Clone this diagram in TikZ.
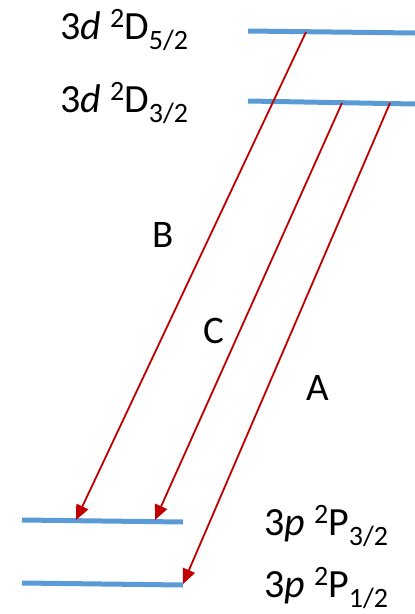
\documentclass[tikz,border=0pt]{standalone}
\usepackage{fontspec}
\setmainfont{Carlito}
\usetikzlibrary{arrows.meta}
\definecolor{levelblue}{RGB}{91,155,213}
\definecolor{linered}{RGB}{192,0,0}
\newcommand{\smallfs}{\fontsize{28}{32}\selectfont}
\newcommand{\termsym}[3]{3\textit{#1} \raisebox{0.28em}{\smallfs 2}#2\raisebox{-0.25em}{\smallfs #3}}

\begin{document}
\begin{tikzpicture}[x=1pt,y=-1pt,
    level/.style={levelblue,line width=5pt},
    trans/.style={linered,line width=1.8pt,-{Triangle[length=15pt,width=13pt]}},
    termlabel/.style={anchor=base west,inner sep=0pt,font=\fontsize{40}{46}\selectfont},
    tag/.style={anchor=base,inner sep=0pt,font=\fontsize{39}{45}\selectfont}]
    \useasboundingbox (0,0) rectangle (415,614);
    % energy levels
    \coordinate (D52l) at (248,31);  \coordinate (D52r) at (415,33);
    \coordinate (D32l) at (248,101); \coordinate (D32r) at (415,104);
    \coordinate (P32l) at (22,520);  \coordinate (P32r) at (183,522);
    \coordinate (P12l) at (22,583);  \coordinate (P12r) at (183,585);
    \draw[level] (D52l) -- (D52r);
    \draw[level] (D32l) -- (D32r);
    \draw[level] (P32l) -- (P32r);
    \draw[level] (P12l) -- (P12r);
    % term symbols
    \node[termlabel] (tD52) at (60,39)  {\termsym{d}{D}{5/2}};
    \node[termlabel] (tD32) at (60,112) {\termsym{d}{D}{3/2}};
    \node[termlabel] (tP32) at (264,535) {\termsym{p}{P}{3/2}};
    \node[termlabel] (tP12) at (264,597) {\termsym{p}{P}{1/2}};
    % transitions
    \coordinate (Btop) at (306,32);  \coordinate (Bbot) at (76,520);
    \coordinate (Ctop) at (342,103); \coordinate (Cbot) at (155,520);
    \coordinate (Atop) at (390,103); \coordinate (Abot) at (183,584);
    \draw[trans] (Btop) -- (Bbot);
    \draw[trans] (Ctop) -- (Cbot);
    \draw[trans] (Atop) -- (Abot);
    \node[tag] (tagB) at (163,247) {B};
    \node[tag] (tagC) at (214,343) {C};
    \node[tag] (tagA) at (318,400) {A};
\end{tikzpicture}
\end{document}
